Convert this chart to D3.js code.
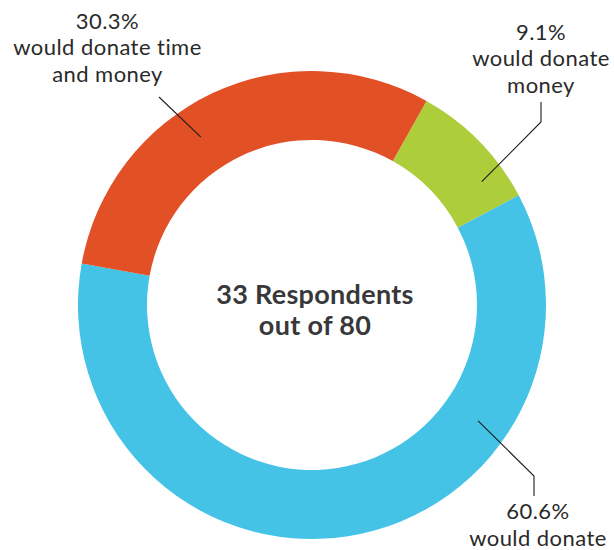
<!DOCTYPE html>
<html>
<head>
<meta charset="utf-8">
<script src="https://cdn.jsdelivr.net/npm/d3@7"></script>
<style>
  html, body { margin: 0; padding: 0; background: #fff; }
  svg { display: block; }
  .lbl { font-family: Lato, "Open Sans", sans-serif; font-size: 22px; letter-spacing: 0.45px; fill: #2a2a2a; }
  .center { font-family: Lato, "Open Sans", sans-serif; font-size: 27px; letter-spacing: 0.3px; font-weight: 700; fill: #38383b; }
</style>
</head>
<body>
<script>
// Survey answers among the 33 respondents (share of respondents, %)
const categories = ["money", "time", "time and money"];
const values = [9.1, 60.6, 30.3];
const colors = ["#AECD3A", "#44C3E6", "#E25025"];
const labelLines = [
  ["9.1%", "would donate", "money"],
  ["60.6%", "would donate"],
  ["30.3%", "would donate time", "and money"]
];
const centerLines = ["33 Respondents", "out of 80"];

const W = 614, H = 550;
const cx = 312, cy = 305;
const outerR = 234, innerR = 165;
const startDeg = 29.3;

// Label blocks: text centre x, first baseline, line step;
// leader: start point, optional elbow, and end given in polar form (deg, radius)
const labelLayout = [
  { x: 541, y: 39.5, step: 26.5, start: [541, 102], elbow: [541, 122], end: [54.0, 209.8] },
  { x: 538, y: 519, step: 26.5, start: [534, 496], elbow: [534, 476], end: [124.9, 202.5] },
  { x: 107.5, y: 28.5, step: 26.8, start: [159, 97], elbow: null, end: [-33.5, 201.4] }
];

const svg = d3.select("body").append("svg")
  .attr("width", W).attr("height", H)
  .attr("viewBox", `0 0 ${W} ${H}`);

const rad = d => d * Math.PI / 180;

const pie = d3.pie().sort(null).value(d => d)
  .startAngle(rad(startDeg)).endAngle(rad(startDeg + 360));
const arc = d3.arc().innerRadius(innerR).outerRadius(outerR);

const g = svg.append("g").attr("transform", `translate(${cx},${cy})`);
g.selectAll("path.slice")
  .data(pie(values))
  .join("path")
  .attr("class", "slice")
  .attr("d", arc)
  .attr("fill", (d, i) => colors[i]);

// Leader lines
labelLayout.forEach(L => {
  const p = d3.pointRadial(rad(L.end[0]), L.end[1]);
  const pts = [L.start];
  if (L.elbow) pts.push(L.elbow);
  pts.push([cx + p[0], cy + p[1]]);
  svg.append("path")
    .attr("d", d3.line()(pts))
    .attr("fill", "none")
    .attr("stroke", "#1e1e1e")
    .attr("stroke-width", 1.1);
});

// Slice labels
labelLines.forEach((lines, i) => {
  const L = labelLayout[i];
  const t = svg.append("text").attr("class", "lbl").attr("text-anchor", "middle");
  lines.forEach((s, k) => {
    t.append("tspan").attr("x", L.x).attr("y", L.y + k * L.step).text(s);
  });
});

// Centre caption
const c = svg.append("text").attr("class", "center").attr("text-anchor", "middle");
centerLines.forEach((s, k) => {
  c.append("tspan").attr("x", cx + 3).attr("y", 303.5 + k * 31).text(s);
});
</script>
</body>
</html>
